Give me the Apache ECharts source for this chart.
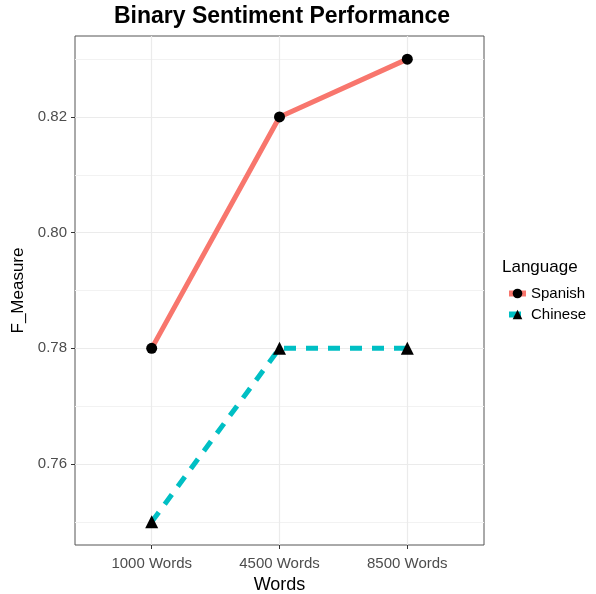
<!DOCTYPE html>
<html>
<head>
<meta charset="utf-8">
<script src="https://cdn.jsdelivr.net/npm/echarts@6/dist/echarts.min.js"></script>
<style>
  html, body { margin: 0; padding: 0; background: #fff; }
  #chart { width: 596px; height: 594px; }
</style>
</head>
<body>
<div id="chart"></div>
<script>
// data
var words = ['1000 Words', '4500 Words', '8500 Words'];
var spanish = [0.78, 0.82, 0.83];
var chinese = [0.75, 0.78, 0.78];
var yTicks = [0.76, 0.78, 0.80, 0.82];
var yMinor = [0.75, 0.77, 0.79, 0.81, 0.83];
var xPos = [1, 2, 3];

function pairs(vals) {
  var out = [];
  for (var i = 0; i < vals.length; i++) out.push([xPos[i], vals[i]]);
  return out;
}

// gridlines drawn as markLines (ggplot style: major + minor)
var gridLines = [];
for (var i = 0; i < yMinor.length; i++) gridLines.push({ yAxis: yMinor[i], lineStyle: { color: '#f2f2f2', width: 1, type: 'solid' } });
for (var i = 0; i < yTicks.length; i++) gridLines.push({ yAxis: yTicks[i], lineStyle: { color: '#ebebeb', width: 1.2, type: 'solid' } });
for (var i = 0; i < xPos.length; i++) gridLines.push({ xAxis: xPos[i], lineStyle: { color: '#ebebeb', width: 1.2, type: 'solid' } });

var font = 'Arial, "Liberation Sans", sans-serif';

var option = {
  backgroundColor: '#fff',
  animation: false,
  title: {
    text: 'Binary Sentiment Performance',
    left: 277, top: 0, textAlign: 'center',
    textStyle: { fontSize: 23, fontWeight: 'bold', color: '#000', fontFamily: font }
  },
  grid: {
    left: 75, right: 112, top: 36, bottom: 49,
    outerBoundsMode: 'none', containLabel: false,
    show: true, borderColor: '#555', borderWidth: 1, backgroundColor: '#fff'
  },
  legend: {
    orient: 'vertical',
    left: 506, top: 286, padding: 0,
    itemWidth: 17, itemHeight: 12, itemGap: 6,
    lineStyle: { width: 6 },
    textStyle: { fontSize: 15, color: '#000', fontFamily: font },
    data: ['Spanish', 'Chinese']
  },
  graphic: [{
    type: 'text', left: 502, top: 259,
    style: { text: 'Language', fontSize: 17, fill: '#000', fontFamily: font }
  }],
  xAxis: {
    type: 'value', min: 0.4, max: 3.6,
    name: 'Words', nameLocation: 'middle', nameGap: 31,
    nameTextStyle: { fontSize: 18, color: '#000', fontFamily: font },
    axisLine: { show: false },
    axisTick: { show: true, customValues: xPos, length: 4, lineStyle: { color: '#333' } },
    axisLabel: {
      customValues: xPos, color: '#4d4d4d', fontSize: 15, margin: 11, fontFamily: font,
      formatter: function (v) { return words[Math.round(v) - 1]; }
    },
    splitLine: { show: false }
  },
  yAxis: {
    type: 'value', min: 0.746, max: 0.834,
    name: 'F_Measure', nameLocation: 'middle', nameGap: 48, nameRotate: 90,
    nameTextStyle: { fontSize: 17, color: '#000', fontFamily: font },
    axisLine: { show: false },
    axisTick: { show: true, customValues: yTicks, length: 4, lineStyle: { color: '#333' } },
    axisLabel: {
      customValues: yTicks, color: '#4d4d4d', fontSize: 15, margin: 8, fontFamily: font,
      formatter: function (v) { return v.toFixed(2); }
    },
    splitLine: { show: false }
  },
  series: [
    {
      name: 'grid', type: 'line', data: [], silent: true, z: 0,
      markLine: { silent: true, z: 0, symbol: 'none', label: { show: false }, animation: false, data: gridLines }
    },
    {
      name: 'Spanish', type: 'line', z: 3,
      data: pairs(spanish),
      symbol: 'circle', symbolSize: 11,
      lineStyle: { color: '#F8766D', width: 5 },
      itemStyle: { color: '#000' }
    },
    {
      name: 'Chinese', type: 'line', z: 3,
      data: pairs(chinese),
      symbol: 'triangle', symbolSize: 13,
      lineStyle: { color: '#00BFC4', width: 5, type: [12, 10] },
      itemStyle: { color: '#000' }
    }
  ]
};

var myChart = echarts.init(document.getElementById('chart'));
myChart.setOption(option);
</script>
</body>
</html>
